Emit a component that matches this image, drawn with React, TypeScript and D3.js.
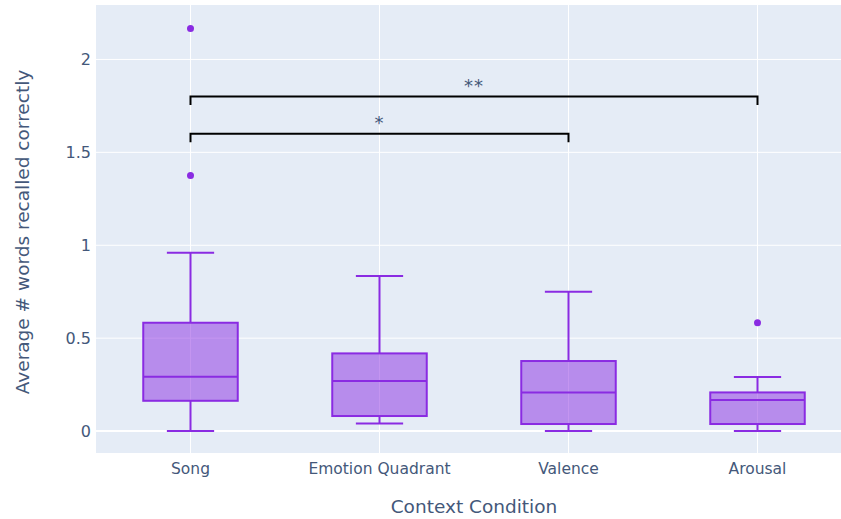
import React from "react";
import * as d3 from "d3";

const categories = ["Song", "Emotion Quadrant", "Valence", "Arousal"];
const lowerFence = [0, 0.041, 0, 0];
const q1 = [0.163, 0.081, 0.038, 0.038];
const median = [0.292, 0.269, 0.208, 0.167];
const q3 = [0.583, 0.418, 0.377, 0.208];
const upperFence = [0.96, 0.834, 0.75, 0.291];
const outliers: number[][] = [[1.375, 2.167], [], [], [0.583]];
const yTicks = [0, 0.5, 1, 1.5, 2];
const yTickLabels = ["0", "0.5", "1", "1.5", "2"];
const brackets = [
  { from: "Song", to: "Valence", y: 1.6, label: "*" },
  { from: "Song", to: "Arousal", y: 1.8, label: "**" },
];

const W = 841, H = 519;
const left = 96, right = 852, top = 5, bottom = 453;
const FONT = "'DejaVu Sans', Verdana, sans-serif";
const TXT = "#44587a";
const STROKE = "rgb(138,43,226)";
const FILL = "rgba(138,43,226,0.5)";

export default function App() {
  const x = d3.scaleBand<string>().domain(categories).range([left, right]).padding(0);
  const y = d3.scaleLinear().domain([-0.118, 2.293]).range([bottom, top]);
  const bw = x.bandwidth();
  const cx = (c: string) => (x(c) as number) + bw / 2;
  const boxW = bw * 0.5;
  const capW = bw * 0.25;
  const drop = 0.045;

  return (
    <svg width={W} height={H} style={{ display: "block", position: "absolute", left: 0, top: 0 }}>
      <defs>
        <clipPath id="plot">
          <rect x={left} y={top} width={right - left} height={bottom - top} />
        </clipPath>
      </defs>
      <rect x={0} y={0} width={W} height={H} fill="white" />
      <rect x={left} y={top} width={right - left} height={bottom - top} fill="#E5ECF6" />
      <g clipPath="url(#plot)">
        {categories.map((c) => (
          <line key={c} x1={cx(c)} x2={cx(c)} y1={top} y2={bottom} stroke="white" strokeWidth={1} />
        ))}
        {yTicks.map((t) => (
          <line key={t} x1={left} x2={right} y1={y(t)} y2={y(t)} stroke="white" strokeWidth={t === 0 ? 2 : 1} />
        ))}
        {categories.map((c, i) => {
          const m = cx(c);
          return (
            <g key={c}>
              <line x1={m} x2={m} y1={y(q3[i])} y2={y(upperFence[i])} stroke={STROKE} strokeWidth={2} />
              <line x1={m} x2={m} y1={y(q1[i])} y2={y(lowerFence[i])} stroke={STROKE} strokeWidth={2} />
              <line x1={m - capW / 2} x2={m + capW / 2} y1={y(upperFence[i])} y2={y(upperFence[i])} stroke={STROKE} strokeWidth={2} />
              <line x1={m - capW / 2} x2={m + capW / 2} y1={y(lowerFence[i])} y2={y(lowerFence[i])} stroke={STROKE} strokeWidth={2} />
              <rect x={m - boxW / 2} y={y(q3[i])} width={boxW} height={y(q1[i]) - y(q3[i])} fill={FILL} stroke={STROKE} strokeWidth={2} />
              <line x1={m - boxW / 2} x2={m + boxW / 2} y1={y(median[i])} y2={y(median[i])} stroke={STROKE} strokeWidth={2} />
              {outliers[i].map((o, k) => (
                <circle key={k} cx={m} cy={y(o)} r={3.5} fill={STROKE} />
              ))}
            </g>
          );
        })}
        {brackets.map((b, i) => {
          const x1 = cx(b.from), x2 = cx(b.to);
          const path = d3.path();
          path.moveTo(x1, y(b.y - drop));
          path.lineTo(x1, y(b.y));
          path.lineTo(x2, y(b.y));
          path.lineTo(x2, y(b.y - drop));
          return (
            <g key={i}>
              <path d={path.toString()} fill="none" stroke="black" strokeWidth={2} />
              <text x={(x1 + x2) / 2} y={y(b.y) - 5} textAnchor="middle" fontFamily={FONT} fontSize={18} fill={TXT} letterSpacing={1}>
                {b.label}
              </text>
            </g>
          );
        })}
      </g>
      {yTicks.map((t, i) => (
        <text key={t} x={91} y={y(t)} dy="0.36em" textAnchor="end" fontFamily={FONT} fontSize={16} fill={TXT}>
          {yTickLabels[i]}
        </text>
      ))}
      {categories.map((c) => (
        <text key={c} x={cx(c)} y={474} textAnchor="middle" fontFamily={FONT} fontSize={15.5} fill={TXT}>
          {c}
        </text>
      ))}
      <text x={(left + right) / 2} y={513} textAnchor="middle" fontFamily={FONT} fontSize={18.5} fill={TXT}>
        Context Condition
      </text>
      <text transform={`translate(29,${(top + bottom) / 2 + 3}) rotate(-90)`} textAnchor="middle" fontFamily={FONT} fontSize={18.5} fill={TXT}>
        Average # words recalled correctly
      </text>
    </svg>
  );
}
